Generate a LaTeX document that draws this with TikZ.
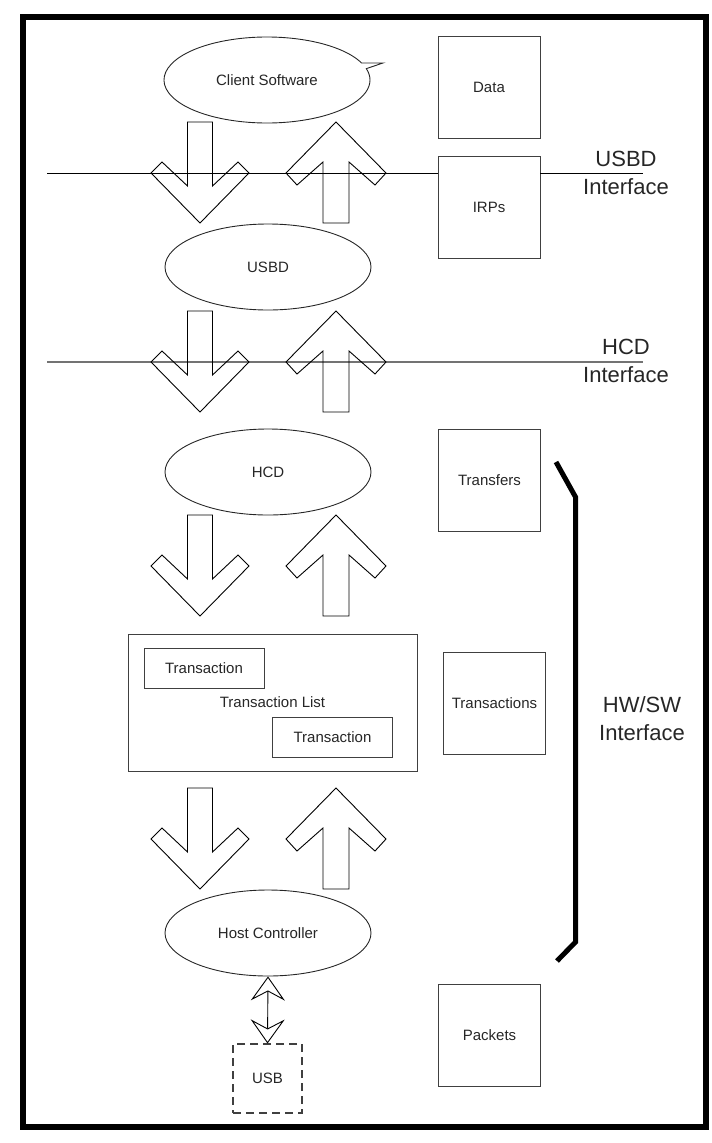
\documentclass[tikz,border=0pt]{standalone}
\usepackage{fontspec}
\setmainfont{Liberation Sans}
\usetikzlibrary{positioning,shapes.geometric,shapes.callouts,arrows.meta}

\begin{document}
\begin{tikzpicture}[x=1pt,y=-1pt,node distance=120pt,on grid,
    layer/.style={ellipse,draw=black!85,line width=0.9pt,minimum width=206pt,minimum height=86pt,inner sep=0pt,font=\fontsize{15}{18}\selectfont,text=black!85},
    unit/.style={rectangle,draw=black!75,line width=0.9pt,minimum size=102pt,inner sep=0pt,font=\fontsize{15}{18}\selectfont,text=black!85},
    item/.style={rectangle,draw=black!75,line width=0.9pt,minimum width=120pt,minimum height=40pt,inner sep=0pt,font=\fontsize{15}{18}\selectfont,text=black!85},
    iface/.style={align=center,font=\fontsize{22}{28}\selectfont,text=black!85},
    pics/down block/.style={code={
      \draw[line width=0.9pt] (-12.5,0) -- (-12.5,64) -- (-38,40) -- (-49,51) -- (0,101)
        -- (49,51) -- (38,40) -- (12.5,64) -- (12.5,0) -- cycle;}},
    pics/up block/.style={code={
      \draw[line width=0.9pt] (0,0) -- (50,51) -- (39,63) -- (13,40) -- (13,101)
        -- (-13,101) -- (-13,40) -- (-39,63) -- (-50,51) -- cycle;}}]
    \useasboundingbox (0,0) rectangle (712,1143);
    \draw[line width=6pt] (23,17) rectangle (706,1127);

    % software layers
    \node[layer,shape=ellipse callout,callout absolute pointer={(383,63)},callout pointer arc=8] (client) at (267,80) {Client Software};
    \node[layer] (usbd) at (268,267) {USBD};
    \node[layer] (hcd) at (268,472) {HCD};
    \node[layer] (hc) at (268,933) {Host Controller};
    \node[draw=black!75,line width=1.1pt,dash pattern=on 8pt off 5pt,minimum size=69pt,inner sep=0pt,font=\fontsize{15}{18}\selectfont,text=black!85] (usb) at (267.5,1078.5) {USB};

    % data units
    \node[unit] (data) at (489,87) {Data};
    \node[unit] (irps) [below = of data] {IRPs};
    \node[unit] (transfers) at (489.5,480) {Transfers};
    \node[unit] (transactions) at (494.5,703) {Transactions};
    \node[unit] (packets) at (489.5,1035.5) {Packets};

    % transaction list
    \node[draw=black!75,line width=0.9pt,minimum width=289pt,minimum height=137pt,inner sep=0pt,font=\fontsize{15}{18}\selectfont,text=black!85] (tlist) at (272.5,702.5) {Transaction List};
    \node[item] (tr1) at (204,668) {Transaction};
    \node[item] (tr2) at (332.5,737) {Transaction};

    % interfaces
    \coordinate (usbdL) at (47,173);
    \coordinate (usbdR) at (643,173);
    \coordinate (hcdL) at (47,362);
    \coordinate (hcdR) at (643,362);
    \draw[line width=0.9pt] (usbdL) -- (usbdL -| irps.west);
    \draw[line width=0.9pt] (usbdR -| irps.east) -- (usbdR);
    \draw[draw=black!55,line width=1.4pt] (hcdL) -- (hcdR);
    \node[iface] (usbdif) at (626,173) {USBD\\Interface};
    \node[iface] (hcdif) at (626,361) {HCD\\Interface};
    \node[iface] (hwswif) at (642,719) {HW/SW\\Interface};
    \draw[line width=5pt] (556,462) -- (575.5,497) -- (575.5,942) -- (557,961);

    % flow between layers
    \pic at (200,122) {down block};
    \pic at (336,122) {up block};
    \pic at (200,311) {down block};
    \pic at (336,311) {up block};
    \pic at (200,515) {down block};
    \pic at (336,515) {up block};
    \pic at (200,788) {down block};
    \pic at (336,788) {up block};
    \draw[{Stealth[open,length=24pt,width=34pt,inset=9pt]}-{Stealth[open,length=24pt,width=34pt,inset=9pt]},line width=0.9pt] (hc.south) -- (usb.north);
\end{tikzpicture}
\end{document}
